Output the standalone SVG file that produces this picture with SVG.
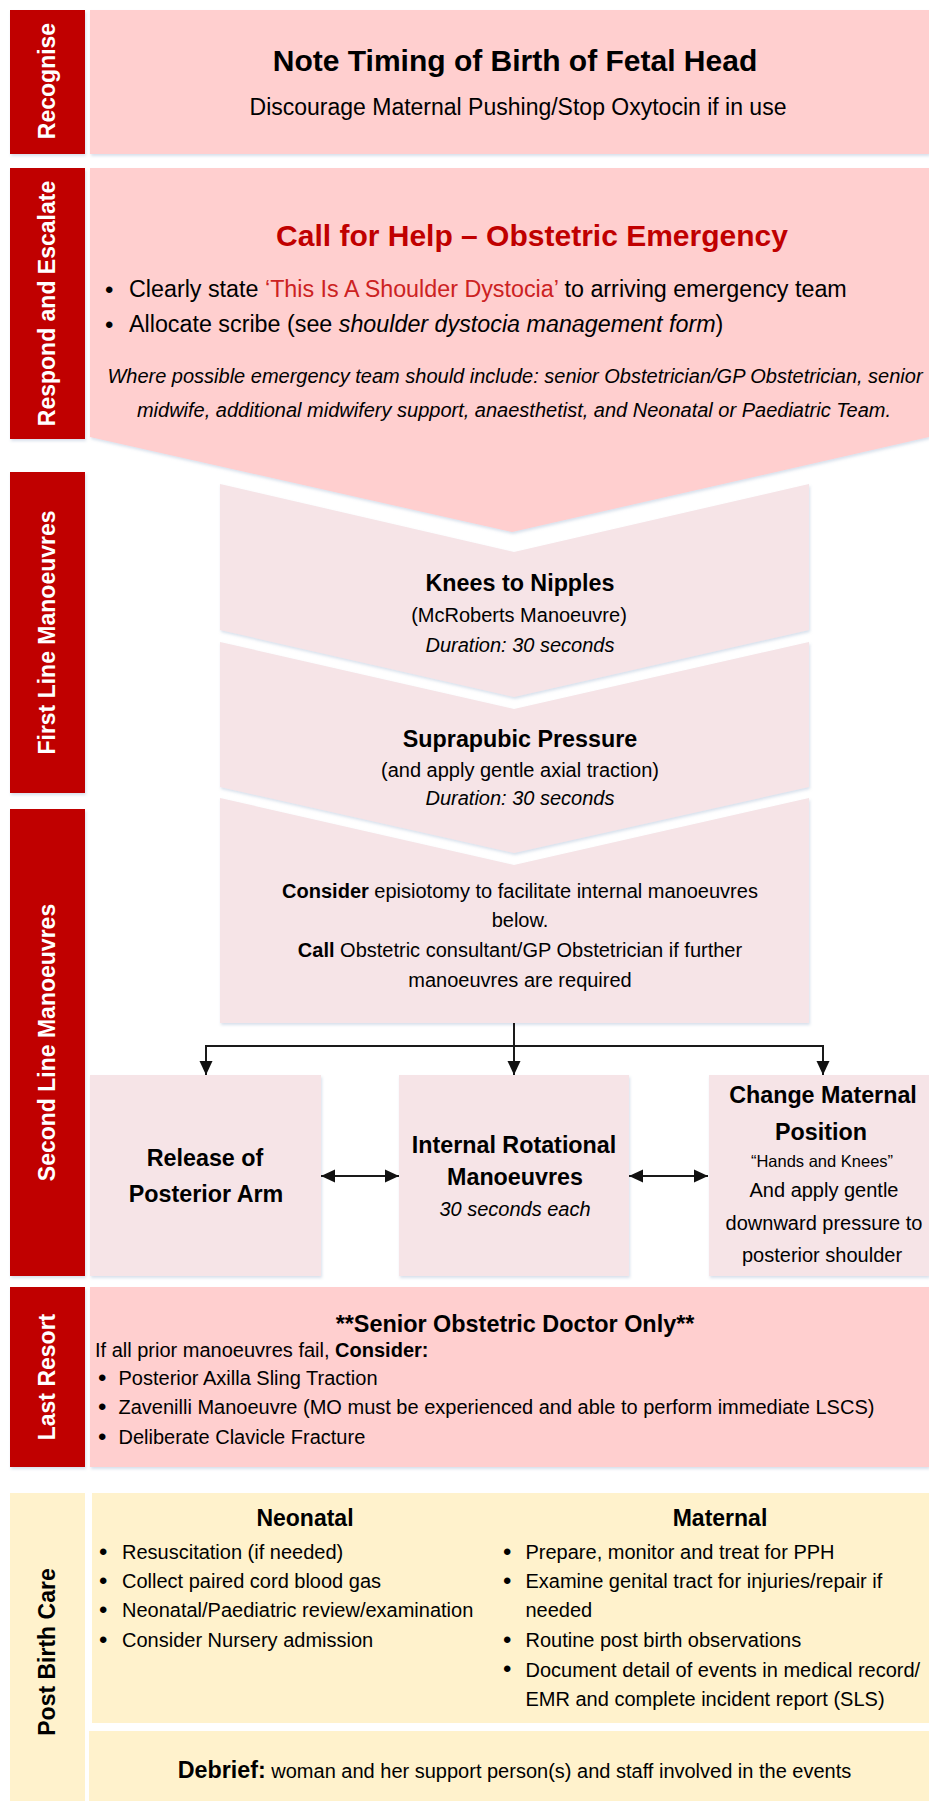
<svg xmlns="http://www.w3.org/2000/svg" width="929" height="1801" viewBox="0 0 929 1801">
<defs>
<filter id="sh" x="-5%" y="-5%" width="110%" height="115%">
<feDropShadow dx="1" dy="2" stdDeviation="1.5" flood-color="#8fa6c8" flood-opacity="0.35"/>
</filter>
<marker id="ah" markerUnits="userSpaceOnUse" markerWidth="14" markerHeight="14" viewBox="0 0 14 14" refX="14" refY="7" orient="auto-start-reverse">
<path d="M0,0.5 L14,7 L0,13.5 Z" fill="#111"/>
</marker>
</defs>
<style>
text{font-family:"Liberation Sans",Arial,sans-serif;fill:#000}
.bar{fill:#C00000}
.bar2{fill:#FFF2CC}
.lab{font-weight:bold;font-size:23px;fill:#fff;text-anchor:middle}
.labd{font-weight:bold;font-size:23px;fill:#000;text-anchor:middle}
.pink{fill:#FFCFCF}
.lt{fill:#F6E4E7}
.cr{fill:#FFF2CC}
.c{text-anchor:middle}
.b{font-weight:bold}
.i{font-style:italic}
.red{fill:#C00000}
.q{fill:#CC2222}
.conn{stroke:#1a1a1a;stroke-width:2;fill:none}
.t20{font-size:20px}
.t23{font-size:23.3px}
.bul{font-size:24px}
</style>

<g id="recognise">
<rect class="bar" x="10" y="10" width="75" height="144" filter="url(#sh)"/>
<text class="lab" transform="translate(55,81) rotate(-90)">Recognise</text>
<rect class="pink" x="90" y="10" width="839" height="144" filter="url(#sh)"/>
<text class="b c" x="515" y="71" font-size="30">Note Timing of Birth of Fetal Head</text>
<text class="c" x="518" y="115" font-size="23">Discourage Maternal Pushing/Stop Oxytocin if in use</text>
</g>

<g id="respond">
<rect class="bar" x="10" y="168" width="75" height="271" filter="url(#sh)"/>
<text class="lab" transform="translate(55,303.5) rotate(-90)">Respond and Escalate</text>
<polygon class="pink" points="90,168 929,168 929,437 512,532 90,437" filter="url(#sh)"/>
<text class="b c red" x="532" y="246" font-size="30">Call for Help – Obstetric Emergency</text>
<text class="bul" x="105" y="298">•</text>
<text class="t23" x="129" y="297">Clearly state <tspan class="q">‘This Is A Shoulder Dystocia’</tspan> to arriving emergency team</text>
<text class="bul" x="105" y="333">•</text>
<text class="t23" x="129" y="332">Allocate scribe (see <tspan class="i">shoulder dystocia management form</tspan>)</text>
<text class="i c t20" x="515" y="383">Where possible emergency team should include: senior Obstetrician/GP Obstetrician, senior</text>
<text class="i c t20" x="514" y="417">midwife, additional midwifery support, anaesthetist, and Neonatal or Paediatric Team.</text>
</g>

<g id="first-line">
<rect class="bar" x="10" y="472" width="75" height="321" filter="url(#sh)"/>
<text class="lab" transform="translate(55,632.5) rotate(-90)">First Line Manoeuvres</text>
</g>

<g id="knees-to-nipples">
<polygon class="lt" points="220,484 514,552 809,484 809,630 514,697 220,630" filter="url(#sh)"/>
<text class="b c t23" x="520" y="591">Knees to Nipples</text>
<text class="c t20" x="519" y="622">(McRoberts Manoeuvre)</text>
<text class="i c t20" x="520" y="652">Duration: 30 seconds</text>
</g>

<g id="suprapubic">
<polygon class="lt" points="220,642 514,709 809,642 809,787 514,853 220,787" filter="url(#sh)"/>
<text class="b c t23" x="520" y="747">Suprapubic Pressure</text>
<text class="c t20" x="520" y="777">(and apply gentle axial traction)</text>
<text class="i c t20" x="520" y="805">Duration: 30 seconds</text>
</g>

<g id="second-line">
<rect class="bar" x="10" y="809" width="75" height="467" filter="url(#sh)"/>
<text class="lab" transform="translate(55,1042.5) rotate(-90)">Second Line Manoeuvres</text>
</g>

<g id="consider">
<polygon class="lt" points="220,798 514,865 809,798 809,1023 220,1023" filter="url(#sh)"/>
<text class="c t20" x="520" y="898"><tspan class="b">Consider</tspan> episiotomy to facilitate internal manoeuvres</text>
<text class="c t20" x="520" y="927">below.</text>
<text class="c t20" x="520" y="957"><tspan class="b">Call</tspan> Obstetric consultant/GP Obstetrician if further</text>
<text class="c t20" x="520" y="987">manoeuvres are required</text>
</g>

<g id="posterior-arm">
<rect class="lt" x="90" y="1075" width="231" height="201" filter="url(#sh)"/>
<text class="b c t23" x="205" y="1166">Release of</text>
<text class="b c t23" x="206" y="1202">Posterior Arm</text>
</g>

<g id="internal-rotational">
<rect class="lt" x="399" y="1075" width="230" height="201" filter="url(#sh)"/>
<text class="b c t23" x="514" y="1153">Internal Rotational</text>
<text class="b c t23" x="515" y="1185">Manoeuvres</text>
<text class="i c t20" x="515" y="1216">30 seconds each</text>
</g>

<g id="maternal-position">
<rect class="lt" x="709" y="1075" width="220" height="201" filter="url(#sh)"/>
<text class="b c t23" x="823" y="1103">Change Maternal</text>
<text class="b c t23" x="821" y="1140">Position</text>
<text class="c" x="822" y="1167" font-size="16.5">“Hands and Knees”</text>
<text class="c t20" x="824" y="1197">And apply gentle</text>
<text class="c t20" x="824" y="1230">downward pressure to</text>
<text class="c t20" x="822" y="1262">posterior shoulder</text>
</g>

<g id="connectors">
<path class="conn" d="M514,1023 V1075" marker-end="url(#ah)"/>
<path class="conn" d="M206,1075 V1046 H823 V1075" marker-start="url(#ah)" marker-end="url(#ah)"/>
<path class="conn" d="M321,1176 H399" marker-start="url(#ah)" marker-end="url(#ah)"/>
<path class="conn" d="M629,1176 H708" marker-start="url(#ah)" marker-end="url(#ah)"/>
</g>

<g id="last-resort">
<rect class="bar" x="10" y="1287" width="75" height="180" filter="url(#sh)"/>
<text class="lab" transform="translate(55,1377) rotate(-90)">Last Resort</text>
<rect class="pink" x="90" y="1287" width="839" height="180" filter="url(#sh)"/>
<text class="b c" x="515" y="1332" font-size="23.4">**Senior Obstetric Doctor Only**</text>
<text class="t20" x="95" y="1357">If all prior manoeuvres fail, <tspan class="b">Consider:</tspan></text>
<text class="bul" x="98" y="1386">•</text>
<text class="t20" x="118.5" y="1385">Posterior Axilla Sling Traction</text>
<text class="bul" x="98" y="1415">•</text>
<text class="t20" x="118.5" y="1414">Zavenilli Manoeuvre (MO must be experienced and able to perform immediate LSCS)</text>
<text class="bul" x="98" y="1445">•</text>
<text class="t20" x="118.5" y="1444">Deliberate Clavicle Fracture</text>
</g>

<g id="post-birth">
<rect class="bar2" x="10" y="1493" width="75" height="308"/>
<text class="labd" transform="translate(55,1652) rotate(-90)">Post Birth Care</text>
<rect class="cr" x="92" y="1493" width="837" height="230"/>
<text class="b c" x="305" y="1526" font-size="23">Neonatal</text>
<text class="bul" x="99" y="1560">•</text>
<text class="t20" x="122" y="1559">Resuscitation (if needed)</text>
<text class="bul" x="99" y="1589">•</text>
<text class="t20" x="122" y="1588">Collect paired cord blood gas</text>
<text class="bul" x="99" y="1618">•</text>
<text class="t20" x="122" y="1617">Neonatal/Paediatric review/examination</text>
<text class="bul" x="99" y="1648">•</text>
<text class="t20" x="122" y="1647">Consider Nursery admission</text>
<text class="b c" x="720" y="1526" font-size="23">Maternal</text>
<text class="bul" x="503" y="1560">•</text>
<text class="t20" x="525.5" y="1559">Prepare, monitor and treat for PPH</text>
<text class="bul" x="503" y="1589">•</text>
<text class="t20" x="525.5" y="1588">Examine genital tract for injuries/repair if</text>
<text class="t20" x="525.5" y="1617">needed</text>
<text class="bul" x="503" y="1648">•</text>
<text class="t20" x="525.5" y="1647">Routine post birth observations</text>
<text class="bul" x="503" y="1677">•</text>
<text class="t20" x="525.5" y="1676.5">Document detail of events in medical record/</text>
<text class="t20" x="525.5" y="1706">EMR and complete incident report (SLS)</text>
</g>

<g id="debrief">
<rect class="cr" x="89" y="1731" width="840" height="70"/>
<text class="c t20" x="514.5" y="1778"><tspan class="b" font-size="23.3">Debrief:</tspan> woman and her support person(s) and staff involved in the events</text>
</g>
</svg>
